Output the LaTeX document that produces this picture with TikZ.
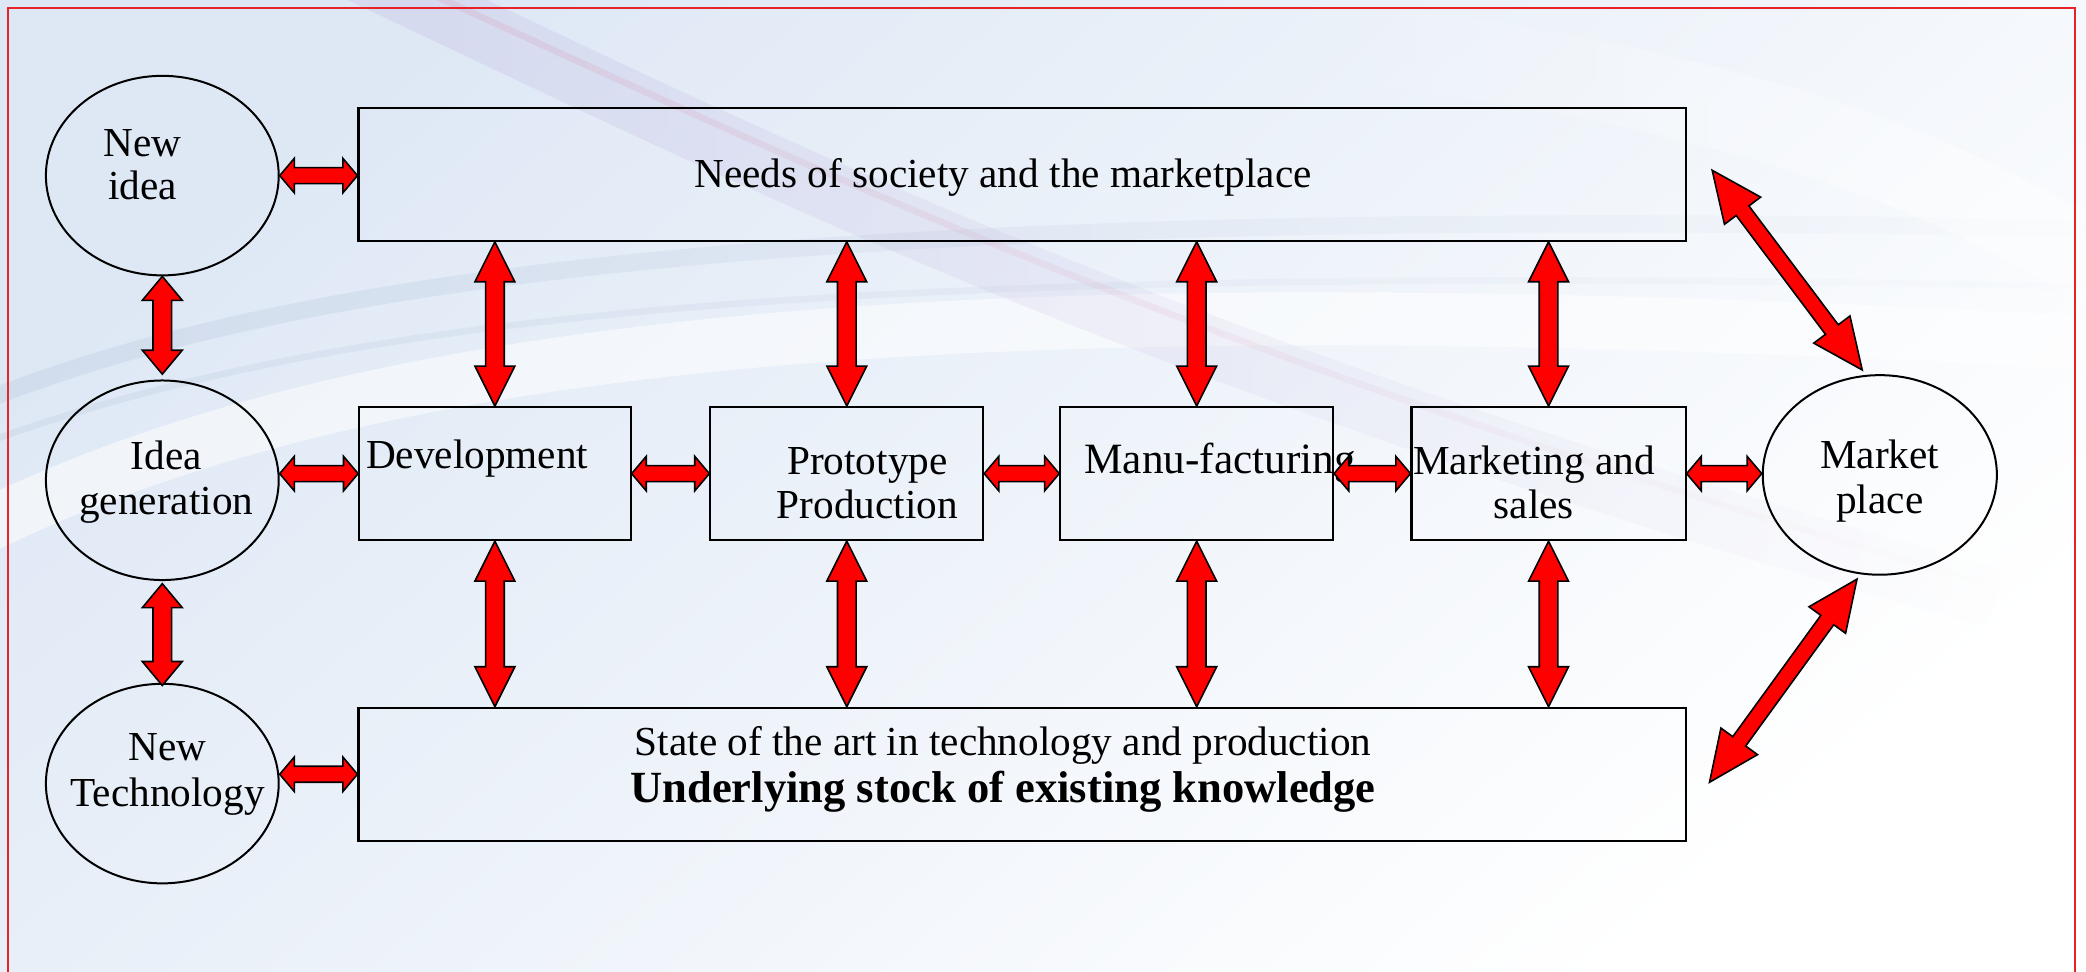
\documentclass[tikz,border=0pt]{standalone}
\usepackage{fontspec}
\setmainfont{Liberation Serif}
\usetikzlibrary{calc,shapes.geometric,fadings}
\definecolor{bgtop}{RGB}{222,232,245}
\definecolor{bgmid}{RGB}{243,247,252}
\definecolor{lav}{RGB}{196,184,226}
\definecolor{pinkish}{RGB}{215,140,170}
\definecolor{grayblue}{RGB}{180,196,218}
\definecolor{frame}{RGB}{232,35,40}
\newcommand{\fatarr}[5]{%
  \coordinate (fa1) at ($(#1)!#3!(#2)$);
  \coordinate (fa2) at ($(#2)!#3!(#1)$);
  \draw[fatarrow] (#1) -- ($(fa1)!#4!90:(#2)$) -- ($(fa1)!#5!90:(#2)$)
    -- ($(fa2)!#5!-90:(#1)$) -- ($(fa2)!#4!-90:(#1)$) -- (#2)
    -- ($(fa2)!#4!90:(#1)$) -- ($(fa2)!#5!90:(#1)$)
    -- ($(fa1)!#5!-90:(#2)$) -- ($(fa1)!#4!-90:(#2)$) -- cycle;}
\begin{document}
\begin{tikzpicture}[x=1pt,y=-1pt,
  box/.style={draw=black, line width=1.6pt, minimum width=#1, minimum height=100pt, inner sep=0pt},
  circ/.style={ellipse, draw=black, line width=1.5pt, minimum width=175pt, minimum height=150pt, inner sep=0pt},
  txt/.style={font=\fontsize{31}{33}\selectfont, inner sep=0pt, align=center, anchor=base},
  fatarrow/.style={fill=red, draw=black, line width=1.2pt, line join=miter}]
\useasboundingbox (0,0) rectangle (1568,730);
% background
\begin{scope}
\clip (0,0) rectangle (1568,730);
\fill[white] (0,0) rectangle (1568,730);
\shade[top color=bgtop, middle color=bgmid, bottom color=white, shading angle=40] (0,0) rectangle (1568,730);
\draw[white, line width=40pt, opacity=.55] (-20,400) .. controls (300,240) and (800,210) .. (1700,265);
\draw[grayblue, line width=13pt, opacity=.3, path fading=east] (-20,305) .. controls (250,195) and (700,150) .. (1700,175);
\draw[grayblue, line width=5pt, opacity=.25, path fading=east] (-20,337) .. controls (280,225) and (700,195) .. (1700,218);
\draw[lav, line width=45pt, opacity=.3, path fading=east] (250,-30) .. controls (550,110) and (850,270) .. (1500,450);
\draw[pinkish, line width=5pt, opacity=.2, path fading=east] (290,-20) .. controls (580,110) and (870,260) .. (1500,440);
\draw[white, line width=60pt, opacity=.6, path fading=west] (1000,30) .. controls (1350,70) and (1550,150) .. (1700,300);
\end{scope}
\draw[frame, line width=1.5pt] (6,740) -- (6,6) -- (1560,6) -- (1560,740);
% nodes
\node[circ] (newidea) at (122,132) {};
\node[circ] (ideagen) at (122,361) {};
\node[circ] (newtech) at (122,589) {};
\node[circ, minimum width=176pt] (market) at (1413,357) {};
\node[box=998pt] (needs) at (768.5,131) {};
\node[box=204pt] (dev) at (372,356) {};
\node[box=205pt] (proto) at (636.5,356) {};
\node[box=205pt] (manu) at (899.5,356) {};
\node[box=206pt] (mkt) at (1164,356) {};
\node[box=998pt] (state) at (768.5,582) {};
% texts (base = baseline of the last line)
\node[txt, font=\fontsize{31}{32}\selectfont] (tnewidea) at (107,150) {New\\idea};
\node[txt, font=\fontsize{31}{34}\selectfont] (tideagen) at (125,387) {Idea\\generation};
\node[txt, font=\fontsize{31}{34}\selectfont] (tnewtech) at (126,606) {New\\Technology};
\node[txt, font=\fontsize{31}{34}\selectfont] (tmarket) at (1413,386) {Market\\place};
\node[txt] (tneeds) at (754,141) {Needs of society and the marketplace};
\node[txt, anchor=base west] (tdev) at (275,352) {Development};
\node[txt] (tproto) at (652,390) {Prototype\\Production};
\node[txt, anchor=base west] (tmanu) at (815,356) {\fontsize{32.5}{33}\selectfont Manu-facturing};
\node[txt] (tmkt) at (1153,390) {Marketing and\\sales};
\node[txt, font=\fontsize{31}{35}\selectfont] (tstate) at (754,603) {State of the art in technology and production\\{\fontsize{33.5}{35}\selectfont\bfseries Underlying stock of existing knowledge}};
% endpoints
\coordinate (h1b) at (needs.west |- newidea.east);
\coordinate (h2a) at (ideagen.east |- dev.west);
\coordinate (h6b) at (market.west |- mkt.east);
\coordinate (h7a) at (newtech.east |- state.west);
\coordinate (u1) at (needs.south -| dev.north);
\coordinate (u2) at (needs.south -| proto.north);
\coordinate (u3) at (needs.south -| manu.north);
\coordinate (u4) at (needs.south -| mkt.north);
\coordinate (d1) at (state.north -| dev.south);
\coordinate (d2) at (state.north -| proto.south);
\coordinate (d3) at (state.north -| manu.south);
\coordinate (d4) at (state.north -| mkt.south);
\coordinate (dtop) at (1287,128);
\coordinate (dbot) at (1285,588);
\coordinate (mtop) at ($(market.100)+(0,-4)$);
\coordinate (mbot) at ($(market.257)+(0,4)$);
\coordinate (v1a) at (newidea.south);
\coordinate (v1b) at ($(ideagen.north)+(0,-4)$);
\coordinate (v2a) at ($(ideagen.south)+(0,2)$);
\coordinate (v2b) at ($(newtech.north)+(0,2)$);
% connectors
\fatarr{newidea.east}{h1b}{11pt}{13pt}{6pt}
\fatarr{h2a}{dev.west}{11pt}{13pt}{6pt}
\fatarr{dev.east}{proto.west}{11pt}{13pt}{6pt}
\fatarr{proto.east}{manu.west}{11pt}{13pt}{6pt}
\fatarr{manu.east}{mkt.west}{11pt}{13pt}{6pt}
\fatarr{mkt.east}{h6b}{11pt}{13pt}{6pt}
\fatarr{h7a}{state.west}{11pt}{13pt}{6pt}
\fatarr{v1a}{v1b}{18pt}{15pt}{7pt}
\fatarr{v2a}{v2b}{18pt}{15pt}{7pt}
\fatarr{u1}{dev.north}{30pt}{15pt}{7pt}
\fatarr{u2}{proto.north}{30pt}{15pt}{7pt}
\fatarr{u3}{manu.north}{30pt}{15pt}{7pt}
\fatarr{u4}{mkt.north}{30pt}{15pt}{7pt}
\fatarr{dev.south}{d1}{30pt}{15pt}{7pt}
\fatarr{proto.south}{d2}{30pt}{15pt}{7pt}
\fatarr{manu.south}{d3}{30pt}{15pt}{7pt}
\fatarr{mkt.south}{d4}{30pt}{15pt}{7pt}
\fatarr{dtop}{mtop}{38pt}{17pt}{6pt}
\fatarr{mbot}{dbot}{38pt}{17pt}{6pt}
\end{tikzpicture}
\end{document}
